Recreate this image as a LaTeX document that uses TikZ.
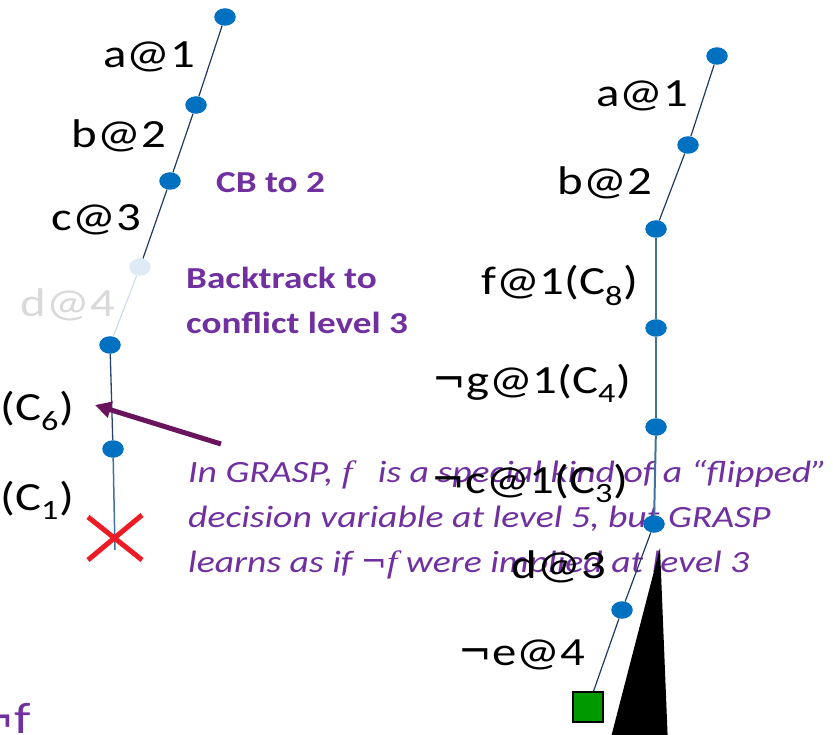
\documentclass[tikz,border=0pt]{standalone}
\usepackage{fontspec}
\setmainfont{Carlito}[FakeStretch=1.22]
\newfontfamily\negfont{DejaVu Sans}
\newfontfamily\serifitfont{Liberation Serif}[FakeStretch=1.22]
\usetikzlibrary{shapes.geometric,arrows.meta}
\definecolor{dotblue}{RGB}{0,112,192}
\definecolor{navy}{RGB}{31,56,100}
\definecolor{steel}{RGB}{65,113,156}
\definecolor{purp}{RGB}{112,48,160}
\definecolor{arrowpurp}{RGB}{106,20,94}
\definecolor{fadedot}{RGB}{222,235,247}
\definecolor{fadeline}{RGB}{200,215,235}
\definecolor{fadetext}{RGB}{217,217,217}
\definecolor{crossred}{RGB}{237,28,36}
\definecolor{sqgreen}{RGB}{0,153,0}
\newcommand{\nt}{{\negfont ¬}}
\newcommand{\itf}{{\serifitfont\itshape f}}
\tikzset{
 dot/.style={ellipse, fill=dotblue, inner sep=0pt, minimum width=21.5pt, minimum height=17.5pt},
 fadedotstyle/.style={dot, fill=fadedot},
 lbl/.style={inner sep=0pt, anchor=base east, font=\fontsize{40}{48}\selectfont, text=black},
 bnote/.style={inner sep=0pt, anchor=base west, font=\fontsize{30.5}{37}\selectfont\bfseries, text=purp},
 inote/.style={inner sep=0pt, anchor=base west, font=\fontsize{30.9}{38}\selectfont\itshape, text=purp},
 navyline/.style={draw=navy, line width=1.2pt},
 steelline/.style={draw=steel, line width=2pt},
}
\begin{document}
\begin{tikzpicture}[x=1pt,y=-1pt]
\useasboundingbox (0,0) rectangle (833,735);
\clip (0,0) rectangle (833,735);
% italic note (behind)
\node[inote] (n1) at (188,482) {In GRASP, \itf~~ is a special kind of a “flipped”};
\node[inote] (n2) at (188,527) {decision variable at level 5, but GRASP};
\node[inote] (n3) at (188,572) {learns as if \nt\itf\ were implied at level 3};
% left tree
\node[dot] (a) at (225,17) {};
\node[dot] (b) at (196,105) {};
\node[dot] (c) at (170,181) {};
\node[fadedotstyle] (d) at (140,267) {};
\node[dot] (e) at (110,345) {};
\node[dot] (f) at (113,449) {};
\coordinate (xc) at (115,538);
\draw[navyline] (a) -- (b);
\draw[navyline] (b) -- (c);
\draw[navyline] (c) -- (d);
\draw[draw=fadeline, line width=1pt] (d) -- (e);
\draw[draw=navy!80!steel, line width=1.3pt] (e) -- (f);
\draw[draw=steel, line width=1.5pt] (f) -- ([yshift=-12pt]xc);
\draw[crossred, line width=5pt] ([shift={(-27,-21)}]xc) -- ([shift={(27,22)}]xc)
  ([shift={(-27,22)}]xc) -- ([shift={(27,-23)}]xc);
\node[lbl] (la) at (195,68) {a@1};
\node[lbl] (lb) at (166,148) {b@2};
\node[lbl] (lc) at (141,231) {c@3};
\node[lbl, text=fadetext] (ld) at (115,317) {d@4};
\node[lbl] (l6) at (74,420) {(C\textsubscript{6})};
\node[lbl] (l1) at (74,510) {(C\textsubscript{1})};
\node[bnote] (cb) at (216,193) {CB to 2};
\node[bnote] (bt1) at (186,289) {Backtrack to};
\node[bnote] (bt2) at (186,334) {conflict level 3};
\coordinate (arrS) at (221,444);
\coordinate (arrT) at (95,405);
\draw[arrowpurp, line width=5pt, -{Triangle[length=16pt,width=16pt]}] (arrS) -- (arrT);
\node[inner sep=0pt, anchor=base east, font=\fontsize{44}{50}\selectfont, text=purp] (nf) at (31,733) {\nt f};
% right tree
\fill[black] (660,548) -- (609,745) -- (668,745) -- cycle;
\node[dot] (ra) at (717,56) {};
\node[dot] (rb) at (688,145) {};
\node[dot] (rc) at (656,229) {};
\node[dot] (rd) at (656,328) {};
\node[dot] (re) at (656,427) {};
\node[dot] (rf) at (654,524) {};
\node[dot] (rg) at (622,610) {};
\node[draw=black, line width=2pt, fill=sqgreen, minimum size=30pt, inner sep=0pt] (sq) at (588,707) {};
\draw[navyline] (ra) -- (rb);
\draw[navyline] (rb) -- (rc);
\draw[steelline] (rc) -- (rd);
\draw[steelline] (rd) -- (re);
\draw[steelline] (re) -- (rf);
\draw[navyline] (rf) -- (rg);
\draw[navyline] (rg) -- (sq);
\node[lbl] (ra1) at (688,107) {a@1};
\node[lbl] (rb2) at (652,195) {b@2};
\node[lbl] (rf1) at (638,295) {f@1(C\textsubscript{8})};
\node[lbl] (rg1) at (631,393) {\nt g@1(C\textsubscript{4})};
\node[lbl] (rc1) at (628,493) {\nt c@1(C\textsubscript{3})};
\node[lbl] (rd3) at (606,578) {d@3};
\node[lbl] (re4) at (585,665) {\nt e@4};
\end{tikzpicture}
\end{document}
